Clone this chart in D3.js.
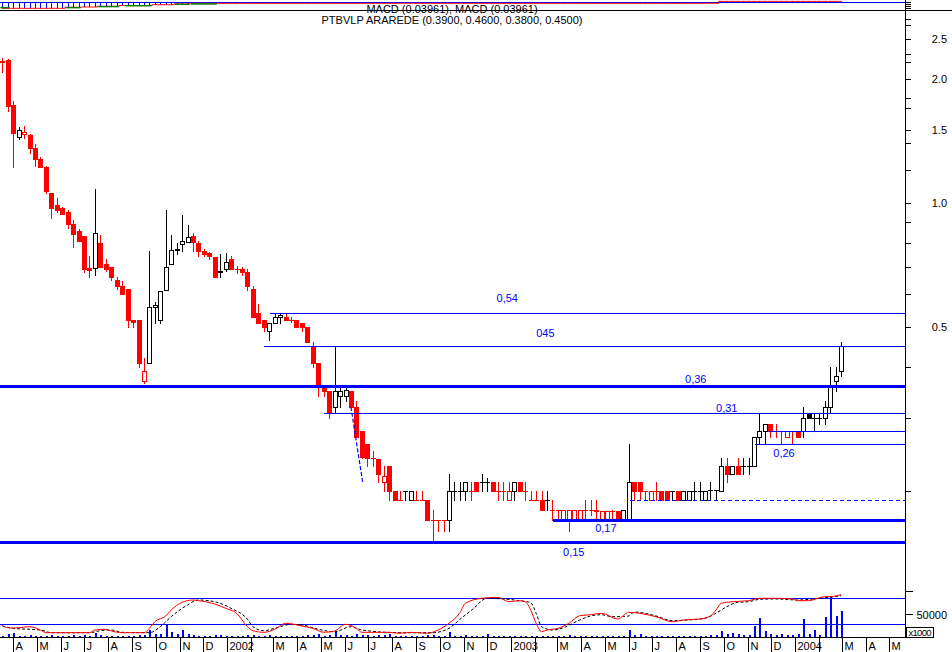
<!DOCTYPE html>
<html><head><meta charset="utf-8">
<script src="https://cdn.jsdelivr.net/npm/d3@7"></script>
<style>html,body{margin:0;padding:0;background:#fff;}svg{display:block;font-family:"Liberation Sans",Arial,sans-serif;}</style>
</head><body>
<svg id="c" width="952" height="652"></svg>
<script>
// ---------- DATA ----------
const firstWeek = "2001-03-18";
const opens = [
2.21,2.22,1.73,1.45,1.47,1.46,1.36,1.28,1.22,1.06,
0.99,0.97,0.95,0.89,0.855,0.83,0.695,0.695,0.80,0.71,
0.70,0.65,0.63,0.62,0.52,0.52,0.37,0.41,0.56,0.52,
0.615,0.71,0.77,0.795,0.805,0.83,0.80,0.765,0.755,0.74,
0.68,0.69,0.73,0.69,0.69,0.68,0.62,0.54,0.52,0.49,
0.51,0.53,0.53,0.52,0.52,0.51,0.50,0.45,0.41,0.36,
0.35,0.32,0.34,0.34,0.35,0.32,0.28,0.26,0.24,0.239,
0.21,0.23,0.20,0.19,0.20,0.19,0.19,0.19,0.19,0.17,
0.17,0.17,0.17,0.20,0.20,0.20,0.20,0.21,0.21,0.21,
0.21,0.20,0.20,0.19,0.20,0.21,0.20,0.19,0.19,0.19,
0.19,0.18,0.18,0.17,0.17,0.17,0.17,0.1795,0.1794,0.1793,
0.17,0.17,0.179,0.1789,0.17,0.17,0.21,0.21,0.1999,0.19,
0.1997,0.1996,0.20,0.20,0.20,0.19,0.19,0.2002,0.2003,0.19,
0.2005,0.2006,0.20,0.23,0.22,0.23,0.23,0.23,0.23,0.27,
0.28,0.29,0.28,0.2799,0.27,0.2797,0.2796,0.28,0.31,0.3002,
0.3003,0.30,0.32,0.37,0.39];
const highs = [
2.25,2.24,1.77,1.53,1.54,1.47,1.39,1.29,1.23,1.06,
1.03,0.98,0.96,0.91,0.865,0.83,0.745,1.08,0.835,0.73,
0.70,0.66,0.645,0.62,0.52,0.52,0.42,0.765,0.575,0.61,
0.96,0.835,0.80,0.935,0.885,0.845,0.81,0.775,0.76,0.74,
0.75,0.755,0.745,0.705,0.70,0.69,0.63,0.57,0.52,0.51,
0.54,0.54,0.54,0.53,0.52,0.51,0.50,0.46,0.41,0.36,
0.35,0.45,0.36,0.36,0.35,0.33,0.28,0.26,0.25,0.239,
0.23,0.23,0.20,0.20,0.20,0.2001,0.20,0.20,0.19,0.18,
0.17,0.17,0.22,0.21,0.21,0.21,0.21,0.21,0.22,0.215,
0.21,0.21,0.21,0.21,0.21,0.21,0.21,0.20,0.20,0.20,
0.20,0.19,0.18,0.1798,0.1797,0.1796,0.1795,0.19,0.19,0.19,
0.1791,0.179,0.18,0.1789,0.18,0.26,0.21,0.21,0.1999,0.1997,
0.21,0.1996,0.20,0.20,0.20,0.20,0.2001,0.21,0.21,0.2004,
0.21,0.2006,0.24,0.24,0.23,0.24,0.24,0.24,0.27,0.31,
0.29,0.29,0.29,0.2799,0.2797,0.2797,0.2796,0.32,0.31,0.31,
0.31,0.33,0.40,0.40,0.46];
const lows = [
2.08,1.67,1.22,1.43,1.44,1.32,1.23,1.22,1.06,0.92,
0.95,0.94,0.87,0.78,0.81,0.68,0.66,0.67,0.70,0.685,
0.65,0.62,0.60,0.50,0.50,0.40,0.365,0.41,0.51,0.51,
0.615,0.71,0.75,0.765,0.805,0.765,0.745,0.745,0.73,0.66,
0.66,0.685,0.69,0.675,0.67,0.615,0.53,0.51,0.49,0.465,
0.51,0.51,0.52,0.515,0.50,0.49,0.46,0.40,0.34,0.34,
0.30,0.31,0.32,0.33,0.32,0.27,0.24,0.23,0.23,0.21,
0.20,0.19,0.19,0.1899,0.19,0.19,0.19,0.1899,0.17,0.15,
0.16,0.16,0.16,0.19,0.19,0.19,0.19,0.1999,0.20,0.20,
0.20,0.19,0.19,0.19,0.19,0.20,0.19,0.19,0.1899,0.18,
0.18,0.17,0.17,0.17,0.16,0.17,0.17,0.17,0.175,0.17,
0.17,0.17,0.17,0.17,0.17,0.17,0.19,0.19,0.19,0.19,
0.19,0.19,0.1899,0.19,0.19,0.19,0.19,0.19,0.19,0.19,
0.19,0.19,0.20,0.21,0.22,0.22,0.22,0.22,0.23,0.26,
0.26,0.27,0.27,0.26,0.27,0.26,0.27,0.27,0.3001,0.28,
0.29,0.29,0.31,0.35,0.38];
const closes = [
2.20,1.72,1.48,1.50,1.49,1.36,1.28,1.22,1.07,0.97,
0.96,0.94,0.89,0.84,0.81,0.69,0.688,0.845,0.70,0.69,
0.66,0.63,0.60,0.52,0.515,0.41,0.39,0.56,0.565,0.61,
0.70,0.77,0.775,0.81,0.825,0.805,0.765,0.75,0.745,0.66,
0.685,0.72,0.69,0.6899,0.68,0.63,0.53,0.51,0.50,0.51,
0.53,0.535,0.52,0.5199,0.50,0.4999,0.46,0.41,0.36,0.35,
0.31,0.35,0.3505,0.351,0.32,0.27,0.242,0.24,0.2399,0.22,
0.218,0.20,0.19,0.1899,0.20,0.2001,0.19,0.1899,0.17,0.1699,
0.1698,0.1697,0.20,0.2001,0.2002,0.21,0.20,0.1999,0.21,0.2101,
0.20,0.1999,0.1998,0.1997,0.21,0.20,0.1999,0.19,0.1899,0.18,
0.19,0.18,0.1799,0.1798,0.1797,0.1796,0.1795,0.1794,0.1793,0.1792,
0.1791,0.179,0.1789,0.17,0.18,0.21,0.20,0.1999,0.1998,0.1997,
0.1996,0.19,0.1899,0.20,0.19,0.20,0.2001,0.2002,0.2003,0.2004,
0.2005,0.2006,0.23,0.22,0.23,0.22,0.23,0.2301,0.27,0.28,
0.29,0.28,0.2799,0.2798,0.2797,0.2796,0.27,0.30,0.3001,0.3002,
0.3003,0.32,0.36,0.38,0.45];
const volumes = [
3000,7000,9000,3000,2500,3500,2500,2000,3000,3500,
2000,2500,3000,4000,2500,3500,3000,9000,4000,2500,
2000,2500,2500,3000,2500,4000,5000,16000,6500,5500,
29000,11000,7000,14500,5500,4500,3000,2500,2500,3500,
3500,3000,2500,2000,2500,3500,4000,3000,2500,3500,
3000,2000,2000,2500,3000,2500,4000,5000,6000,3000,
4500,13000,4000,3500,3000,6500,4500,3500,2500,3500,
4500,6500,3000,2000,2500,2000,1500,2000,4000,5000,
3000,2000,10000,3000,2500,3500,2000,2500,2000,5500,
2500,2000,2500,2000,2500,2000,1500,2000,2500,3000,
2000,2500,2000,2000,3500,2000,2500,2000,2500,2000,
2000,2500,2000,2500,3000,15000,3500,5500,2500,2000,
2500,2000,2500,2000,3000,2500,2000,3000,2500,2500,
3500,4000,12500,7500,9000,5500,4000,3500,24000,41000,
13000,5500,5000,6500,3500,5000,5500,38500,6000,14500,
5000,43500,89000,45500,56000];
const macdWeeks = [1,2,3,4,6,7,8,9,13,17,18,20,21,23,27,28,29,31,32,34,36,37,40,42,44,46,47,49,51,53,56,58,60,62,64,66,67,72,74,76,79,81,83,85,86,89,92,94,96,97,98,99,100,101,103,105,107,109,111,114,116,118,121,124,126,129,131,132,133,135,138,140,143,146,147,149,152,153,155];
const macdValues = [-0.002,-0.005,-0.0054,-0.005,-0.0036,-0.005,-0.0081,-0.0117,-0.0117,-0.0117,-0.0081,-0.0071,-0.0094,-0.0117,-0.0117,-0.0058,0.0031,0.0108,0.0188,0.0292,0.0323,0.0314,0.0269,0.0211,0.0144,-0.0036,-0.009,-0.0112,-0.0071,0.0009,-0.0027,-0.0058,-0.0112,-0.0094,-0.0004,-0.0058,-0.0112,-0.0112,-0.0125,-0.0112,-0.0125,-0.0081,0.0009,0.0152,0.0279,0.0346,0.0359,0.030,0.0314,0.030,0.0188,0.0009,-0.0104,-0.0081,-0.0058,0.0009,0.0112,0.0125,0.0144,0.0067,0.0157,0.0144,0.0098,0.0031,0.0054,0.0067,0.0108,0.0188,0.0279,0.030,0.0314,0.0346,0.0346,0.0337,0.0314,0.0314,0.0368,0.0368,0.0396];
const signalWeeks = [1,3,8,10,17,19,21,23,28,30,32,35,37,40,43,46,47,49,51,54,56,59,62,65,67,74,80,83,85,88,89,90,93,96,98,99,100,102,104,107,109,111,113,116,117,119,121,124,127,130,132,134,136,138,140,143,147,151,155];
const signalValues = [-0.0027,-0.0058,-0.0081,-0.0117,-0.0117,-0.009,-0.0081,-0.0112,-0.0117,-0.0036,0.0099,0.0256,0.0323,0.030,0.0211,0.0063,-0.0036,-0.009,-0.0058,-0.0004,-0.0013,-0.0071,-0.0104,-0.0036,-0.0081,-0.0117,-0.0117,-0.0058,0.0063,0.0242,0.0314,0.0346,0.0337,0.0314,0.0287,0.0144,-0.0036,-0.0081,-0.005,0.0054,0.0108,0.0125,0.0098,0.0108,0.0161,0.0144,0.0108,0.0045,0.0054,0.0076,0.0144,0.0233,0.0292,0.030,0.0332,0.0337,0.0323,0.0346,0.0380];
const macdRefLevels = [0.035, 0];
// top mini indicator panel
const topStepFrom = [1,13,16,19,23,29,33,36,133];
const topStepTo   = [12,15,18,22,28,32,35,132,155];
const topStepVal  = [-0.97,-0.81,-0.76,-0.65,-0.52,-0.39,-0.27,-0.16,0.15];
const greenFrom = [1,13,19,24,33,36];
const greenTo   = [2,15,22,28,35,40];
const greenVal  = [-0.86,-0.86,-0.69,-0.55,-0.32,-0.27];
// horizontal levels
const levelPrices = [0.54,0.45,0.36,0.31,0.28,0.26,0.19,0.17,0.15];
const levelFromWeek = [50.2,49.1,0,60.1,141.9,139.2,116.2,102.1,0];
const levelLabels = ["0,54","045","0,36","0,31","","0,26","","0,17","0,15"];
const levelLabelWeek = [93.7,100.7,128.3,134,0,144.5,0,111.8,105.9];
const trendWeeks = [65, 67.2];
const trendPrices = [0.32, 0.208];
const priceTicks = [0.2,0.3,0.4,0.5,0.6,0.7,0.8,0.9,1.0,1.2,1.4,1.5,1.7,1.8,2.0,2.2,2.3,2.5,2.7,2.8];
const priceTickLabels = [0.5,1.0,1.5,2.0,2.5];
const volTicks = [50000,100000];
const volTickLabels = [50000];
const monthInitials = ["J","F","M","A","M","J","J","A","S","O","N","D"];
const header1 = "MACD (0.03961), MACD (0.03961)";
const header2 = "PTBVLP ARAREDE (0.3900, 0.4600, 0.3800, 0.4500)";

// ---------- STYLE / LAYOUT ----------
const levelWidth = [1,1,3,1,1,1,1,3,3];
const levelDash  = [null,null,null,null,null,null,"4,3",null,null];
const levelLabelDy = [-11,-9,-3,-1,0,13.5,0,12,13.5];
const RED="#ff0000", BLK="#000000", BLU="#0000ff", GRN="#008000";
const plotR = 905;

const svg = d3.select("#c");
const parse = d3.timeParse("%Y-%m-%d");
const base = parse(firstWeek);
const weekDate = k => new Date(base.getTime() + (k-1)*7*864e5);
const x = d3.scaleTime().domain([parse("2001-03-15"), parse("2004-05-21")]).range([0, plotR]);
const xw = k => x(weekDate(k));
const y = d3.scaleLog().domain([0.5, 1]).range([327, 203]);
const yM = d3.scaleLinear().domain([0, 0.035]).range([624, 598]);
const yV = d3.scaleLinear().domain([0, 50000]).range([637, 614]);
const yT = d3.scaleLinear().domain([0, -1]).range([2.3, 8.5]);

const gTop = svg.append("g");
const gMain = svg.append("g").attr("shape-rendering","crispEdges");
const gLow = svg.append("g");
const gAx = svg.append("g");

// ---- top mini panel ----
gTop.append("rect").attr("x",0).attr("y",2).attr("width",plotR).attr("height",1).attr("fill",BLU);
const topSeries = [];
topStepFrom.forEach((f,i)=>{ for(let k=f;k<=topStepTo[i];k++) topSeries.push({k, v: topStepVal[i]}); });
topSeries.forEach(d=>{
  if (d.k <= 35 || d.v > 0) {
    const cx = Math.round(xw(d.k));
    const y0 = yT(0), y1 = yT(d.v);
    gTop.append("line").attr("x1",cx+0.5).attr("x2",cx+0.5).attr("y1",Math.min(y0,y1)).attr("y2",Math.max(y0,y1))
      .attr("stroke",BLU).attr("stroke-width",1);
  }
});
gTop.append("path").datum(topSeries)
  .attr("d", d3.line().x(d=>xw(d.k)).y(d=>yT(d.v)).curve(d3.curveStep))
  .attr("fill","none").attr("stroke",RED).attr("stroke-width",1);
greenFrom.forEach((f,i)=>{
  gTop.append("line").attr("x1",xw(f)-2).attr("x2",xw(greenTo[i])+2).attr("y1",yT(greenVal[i])).attr("y2",yT(greenVal[i]))
    .attr("stroke",GRN).attr("stroke-width",1.5);
});
// separator
svg.append("rect").attr("x",0).attr("y",10).attr("width",952).attr("height",1).attr("fill",BLK);

// ---- candles ----
closes.forEach((c,i)=>{
  const o=opens[i], h=highs[i], l=lows[i];
  const prev = i ? closes[i-1] : o;
  const col = c < prev ? RED : BLK;
  const cx = Math.round(xw(i+1));
  const yo=Math.round(y(o)), yc=Math.round(y(c)), yh=Math.round(y(h)), yl=Math.round(y(l));
  gMain.append("rect").attr("x",cx).attr("y",yh).attr("width",1).attr("height",Math.max(1,yl-yh+1)).attr("fill",col);
  if (yo === yc) {
    gMain.append("rect").attr("x",cx-2).attr("y",yo).attr("width",5).attr("height",1).attr("fill",col);
  } else if (c > o) {
    gMain.append("rect").attr("x",cx-1.5).attr("y",yc+0.5).attr("width",4).attr("height",yo-yc)
      .attr("fill","#fff").attr("stroke",col).attr("stroke-width",1);
  } else {
    gMain.append("rect").attr("x",cx-2).attr("y",yo).attr("width",5).attr("height",yc-yo+1).attr("fill",col);
  }
});

// ---- levels ----
levelPrices.forEach((p,i)=>{
  const x0 = levelFromWeek[i] > 0 ? Math.round(xw(levelFromWeek[i])) : 0;
  const yy = Math.round(y(p));
  if (levelDash[i]) {
    gMain.append("line").attr("x1",x0).attr("x2",plotR).attr("y1",yy+0.5).attr("y2",yy+0.5)
      .attr("stroke",BLU).attr("stroke-width",1).attr("stroke-dasharray",levelDash[i]);
  } else {
    const w = levelWidth[i];
    gMain.append("rect").attr("x",x0).attr("y",yy-Math.floor(w/2)).attr("width",plotR-x0).attr("height",w).attr("fill",BLU);
  }
  if (levelLabels[i]) {
    svg.append("text").attr("x",xw(levelLabelWeek[i])).attr("y",y(p)+levelLabelDy[i])
      .attr("text-anchor","middle").attr("font-size",11).attr("fill",BLU).text(levelLabels[i]);
  }
});
svg.append("line").attr("x1",xw(trendWeeks[0])).attr("y1",y(trendPrices[0]))
  .attr("x2",xw(trendWeeks[1])).attr("y2",y(trendPrices[1]))
  .attr("stroke",BLU).attr("stroke-width",1.2).attr("stroke-dasharray","4,2");

// ---- lower panel ----
volumes.forEach((v,i)=>{
  const cx = Math.round(xw(i+1));
  const yt = Math.round(yV(v));
  gLow.append("rect").attr("x",cx).attr("y",yt).attr("width",2).attr("height",Math.max(0,637-yt)).attr("fill",BLU)
    .attr("shape-rendering","crispEdges");
});
macdRefLevels.forEach(m=>{
  gLow.append("rect").attr("x",0).attr("y",Math.round(yM(m))).attr("width",plotR).attr("height",1).attr("fill",BLU);
});
const macdPts = macdWeeks.map((k,i)=>[xw(k), yM(macdValues[i])]);
const sigPts = signalWeeks.map((k,i)=>[xw(k), yM(signalValues[i])]);
const ln = d3.line().curve(d3.curveMonotoneX);
gLow.append("path").attr("d",ln(sigPts)).attr("fill","none").attr("stroke",BLK).attr("stroke-width",1).attr("stroke-dasharray","3,2");
gLow.append("path").attr("d",ln(macdPts)).attr("fill","none").attr("stroke",RED).attr("stroke-width",1);

// ---- axes ----
gAx.append("rect").attr("x",plotR).attr("y",0).attr("width",1).attr("height",638).attr("fill",BLK);
gAx.append("rect").attr("x",0).attr("y",637).attr("width",plotR).attr("height",1).attr("fill",BLK);
[2,4,6,8].forEach(t=>gAx.append("rect").attr("x",plotR).attr("y",t).attr("width",6).attr("height",1).attr("fill",BLK));
priceTicks.forEach(t=>{
  gAx.append("rect").attr("x",plotR).attr("y",Math.round(y(t))).attr("width",6).attr("height",1).attr("fill",BLK);
});
priceTickLabels.forEach(t=>{
  gAx.append("text").attr("x",947).attr("y",y(t)+4).attr("text-anchor","end").attr("font-size",11).attr("fill",BLK).text(t.toFixed(1));
});
volTicks.forEach(t=>{
  gAx.append("rect").attr("x",plotR).attr("y",Math.round(yV(t))).attr("width",8).attr("height",1).attr("fill",BLK);
});
volTickLabels.forEach(t=>{
  gAx.append("text").attr("x",947).attr("y",yV(t)+5).attr("text-anchor","end").attr("font-size",11).attr("fill",BLK).text(String(t));
});
gAx.append("rect").attr("x",906.5).attr("y",627.5).attr("width",27).attr("height",10).attr("fill","none").attr("stroke",BLK).attr("stroke-width",1);
gAx.append("text").attr("x",908.5).attr("y",635.5).attr("font-size",9.5).attr("textLength",23).attr("fill",BLK).text("x1000");

const months = d3.timeMonth.range(x.domain()[0], x.domain()[1]);
months.forEach(m=>{
  const mx = Math.round(x(m));
  gAx.append("rect").attr("x",mx).attr("y",637).attr("width",1).attr("height",15).attr("fill",BLK);
  const mo = m.getMonth();
  const lab = mo === 0 ? String(m.getFullYear()) : (mo === 1 ? "" : monthInitials[mo]);
  if (lab) gAx.append("text").attr("x",mx+2.5).attr("y",650).attr("font-size",11).attr("fill",BLK).text(lab);
});

// header
svg.append("text").attr("x",452).attr("y",13).attr("text-anchor","middle").attr("font-size",11).attr("fill",BLK).text(header1);
svg.append("text").attr("x",452).attr("y",23.5).attr("text-anchor","middle").attr("font-size",11).attr("fill",BLK).text(header2);
</script>
</body></html>
